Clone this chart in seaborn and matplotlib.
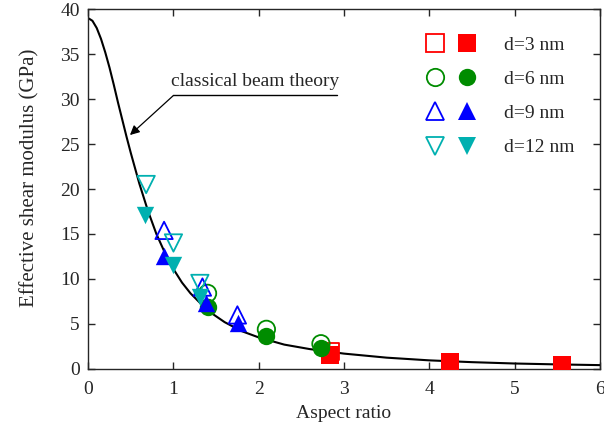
import matplotlib
matplotlib.use("Agg")
import matplotlib.pyplot as plt
from matplotlib.lines import Line2D
from matplotlib.legend_handler import HandlerTuple
import seaborn as sns

# classical beam theory curve
curve_x = [0, 0.05, 0.1, 0.15, 0.2, 0.25, 0.3, 0.35, 0.4, 0.45, 0.5, 0.6, 0.7, 0.8, 0.9,
           1.0, 1.1, 1.2, 1.4, 1.6, 1.8, 2.0, 2.3, 2.6, 3.0, 3.5, 4.0, 4.5, 5.0, 5.5, 6.0]
curve_y = [39.0, 38.7, 37.9, 36.7, 35.2, 33.5, 31.6, 29.6, 27.7, 25.8, 24.0, 20.6, 17.6,
           15.0, 12.9, 11.1, 9.6, 8.4, 6.5, 5.2, 4.2, 3.5, 2.7, 2.2, 1.7, 1.25, 0.95,
           0.75, 0.6, 0.5, 0.42]

# d=3 nm
d3_open_x = [2.84]
d3_open_y = [1.95]
d3_fill_x = [2.84, 4.24, 5.56]
d3_fill_y = [1.6, 0.8, 0.45]
# d=6 nm
d6_open_x = [1.40, 2.09, 2.73]
d6_open_y = [8.4, 4.4, 2.8]
d6_fill_x = [1.40, 2.09, 2.73]
d6_fill_y = [6.9, 3.7, 2.35]
# d=9 nm
d9_open_x = [0.89, 1.34, 1.75]
d9_open_y = [15.4, 9.1, 6.0]
d9_fill_x = [0.89, 1.38, 1.76]
d9_fill_y = [12.6, 7.3, 5.1]
# d=12 nm
d12_open_x = [0.68, 1.00, 1.31]
d12_open_y = [20.5, 14.0, 9.5]
d12_fill_x = [0.67, 1.00, 1.31]
d12_fill_y = [17.1, 11.6, 8.0]

labels = ["d=3 nm", "d=6 nm", "d=9 nm", "d=12 nm"]
colors = ["#ff0000", "#008c00", "#0000ff", "#00b0b0"]
markers = ["s", "o", "^", "v"]

sns.set_theme(style="ticks")
plt.rcParams["font.family"] = ["Liberation Serif", "DejaVu Serif"]
plt.rcParams["xtick.direction"] = "in"
plt.rcParams["ytick.direction"] = "in"

fig = plt.figure(figsize=(6.04, 4.34), dpi=100)
ax = fig.add_axes([0.146, 0.150, 0.847, 0.829])

sns.lineplot(x=curve_x, y=curve_y, color="black", linewidth=1.5, ax=ax)

groups = [
    (d3_open_x, d3_open_y, d3_fill_x, d3_fill_y),
    (d6_open_x, d6_open_y, d6_fill_x, d6_fill_y),
    (d9_open_x, d9_open_y, d9_fill_x, d9_fill_y),
    (d12_open_x, d12_open_y, d12_fill_x, d12_fill_y),
]
ms = 12.5
handles = []
for (ox, oy, fx, fy), c, m in zip(groups, colors, markers):
    sns.scatterplot(x=ox, y=oy, marker=m, s=ms ** 2, facecolor="none",
                    edgecolor=c, linewidth=1.3, ax=ax, zorder=3)
    sns.scatterplot(x=fx, y=fy, marker=m, s=ms ** 2, color=c,
                    edgecolor=c, linewidth=0, ax=ax, zorder=4)
    h_open = Line2D([], [], ls="none", marker=m, markersize=ms, mfc="none",
                    mec=c, mew=1.3)
    h_fill = Line2D([], [], ls="none", marker=m, markersize=ms, mfc=c, mec=c, mew=0)
    handles.append((h_open, h_fill))

ax.legend(handles, labels, handler_map={tuple: HandlerTuple(ndivide=None, pad=0.5)},
          loc="upper right", bbox_to_anchor=(0.985, 0.973), frameon=False,
          fontsize=14, labelspacing=0.85, handlelength=2.8, handletextpad=1.33)

# annotation with underline and arrow
ax.text(1.96, 31.0, "classical beam theory", ha="center", va="bottom", fontsize=14)
ax.plot([1.0, 2.92], [30.4, 30.4], color="black", linewidth=1.0)
ax.annotate("", xy=(0.49, 26.0), xytext=(1.0, 30.4),
            arrowprops=dict(arrowstyle="-|>", color="black", lw=0.9,
                            mutation_scale=14, shrinkA=0, shrinkB=0))

ax.set_xlim(0, 6)
ax.set_ylim(0, 40)
ax.set_xticks(range(0, 7))
ax.set_yticks(range(0, 41, 5))
ax.tick_params(which="both", top=True, right=True, labelsize=14, length=5,
               width=1, pad=6)
ax.tick_params(axis="x", pad=9)
for s in ax.spines.values():
    s.set_linewidth(1)
ax.set_xlabel("Aspect ratio", fontsize=14, labelpad=5)
ax.set_ylabel("Effective shear modulus (GPa)", fontsize=15)
ax.yaxis.set_label_coords(-0.096, 0.53)

fig.savefig("out.png", dpi=100)
